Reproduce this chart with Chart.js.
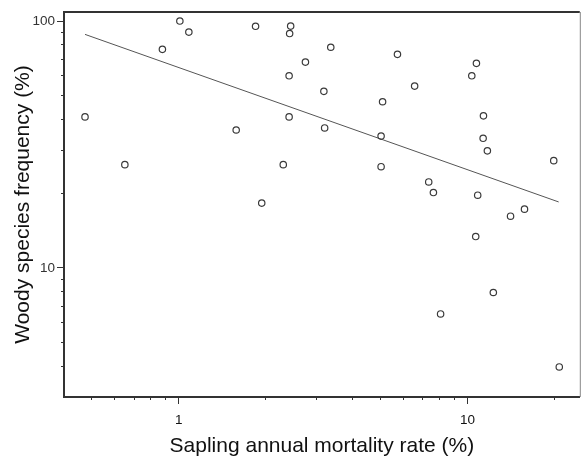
<!DOCTYPE html>
<html lang="en">
  <head>
    <meta charset="UTF-8" />
    <title>Woody species frequency vs sapling mortality</title>
    <script src="https://cdn.jsdelivr.net/npm/chart.js@4.4.1/dist/chart.umd.min.js"></script>
    <style>
      body { margin: 0; background: #fff; }
    </style>
  </head>
  <body>
    <canvas id="myChart" width="585" height="457"></canvas>

    <script>
    // values (log-log axes)
    const mortality = [0.473, 0.650, 0.877, 1.008, 1.083, 1.58, 1.844, 1.937, 2.30, 2.41,
                       2.41, 2.44, 2.42, 2.745, 3.36, 3.18, 3.20, 5.08, 5.02, 5.02,
                       5.72, 6.56, 7.34, 7.62, 10.35, 10.74, 10.68, 10.85, 11.36, 11.33,
                       11.72, 12.29, 8.07, 14.10, 15.76, 19.9, 20.8];
    const frequency = [40.9, 26.2, 76.8, 100, 90.2, 36.2, 95.2, 18.3, 26.2, 60.0,
                       40.9, 95.4, 89.0, 68.2, 78.3, 51.9, 36.9, 47.1, 34.2, 25.7,
                       73.3, 54.5, 22.3, 20.2, 60.0, 67.4, 13.4, 19.7, 41.3, 33.5,
                       29.8, 7.95, 6.51, 16.2, 17.3, 27.2, 3.97];

    // fitted line end points
    const fitX = [0.473, 20.7];
    const fitY = [88.3, 18.5];

    // axis ticks
    const xMajor = [1, 10];
    const xMinor = [0.5, 0.6, 0.7, 0.8, 0.9, 2, 3, 4, 5, 6, 7, 8, 9, 20];
    const yMajor = [10, 100];
    const yMinor = [4, 5, 6, 7, 8, 9, 20, 30, 40, 50, 60, 70, 80, 90];

    const xTitle = 'Sapling annual mortality rate (%)';
    const yTitle = 'Woody species frequency (%)';

    const ink = '#333';

    const frame = {
      id: 'frame',
      afterDraw(chart) {
        const ctx = chart.ctx;
        const a = chart.chartArea;
        ctx.save();
        ctx.strokeStyle = ink;
        ctx.lineWidth = 2;
        ctx.beginPath();
        ctx.moveTo(a.left - 1, a.top);
        ctx.lineTo(a.right, a.top);
        ctx.stroke();
        ctx.strokeStyle = '#888';
        ctx.lineWidth = 1;
        ctx.beginPath();
        ctx.moveTo(a.right + 0.5, a.top);
        ctx.lineTo(a.right + 0.5, a.bottom);
        ctx.stroke();
        ctx.restore();
      }
    };

    function setTicks(values) {
      return scale => { scale.ticks = values.map(v => ({ value: v })); };
    }

    chartIt();

    function chartIt() {
      const points = mortality.map((x, i) => ({ x: x, y: frequency[i] }));
      const fit = fitX.map((x, i) => ({ x: x, y: fitY[i] }));

      const ctx = document.getElementById('myChart').getContext('2d');
      new Chart(ctx, {
        type: 'scatter',
        data: {
          datasets: [{
            data: points,
            pointRadius: 3.2,
            pointBorderWidth: 1.2,
            pointBorderColor: '#3a3a3a',
            pointBackgroundColor: 'rgba(0,0,0,0)',
            showLine: false
          }, {
            type: 'line',
            data: fit,
            borderColor: '#555',
            borderWidth: 1,
            pointRadius: 0,
            fill: false
          }]
        },
        options: {
          responsive: false,
          animation: false,
          devicePixelRatio: 1,
          layout: { padding: { top: 12, right: 2, left: 0, bottom: 0 } },
          plugins: { legend: { display: false }, tooltip: { enabled: false } },
          scales: {
            x: {
              type: 'logarithmic',
              position: 'bottom',
              weight: 1,
              min: 0.4,
              max: 24.5,
              afterBuildTicks: setTicks(xMajor),
              afterFit: s => { s.height = 60; },
              border: { display: true, color: ink, width: 2 },
              grid: { drawOnChartArea: false, tickLength: 7, tickColor: ink },
              ticks: {
                autoSkip: false, maxRotation: 0, padding: 8, color: '#111',
                font: { family: 'Liberation Sans', size: 13.5 },
                callback: v => String(v)
              },
              title: {
                display: true, text: xTitle, color: '#111',
                padding: { top: 0, bottom: -2 },
                font: { family: 'Liberation Sans', size: 21 }
              }
            },
            x2: {
              type: 'logarithmic',
              axis: 'x',
              position: 'bottom',
              weight: 0,
              min: 0.4,
              max: 24.5,
              afterBuildTicks: setTicks(xMinor),
              afterFit: s => { s.height = 0; },
              border: { display: false },
              grid: { drawOnChartArea: false, tickLength: 3, tickColor: ink },
              ticks: { display: false }
            },
            y: {
              type: 'logarithmic',
              position: 'left',
              weight: 1,
              min: 3,
              max: 108.8,
              afterBuildTicks: setTicks(yMajor),
              afterFit: s => { s.width = 64; },
              border: { display: true, color: ink, width: 2 },
              grid: { drawOnChartArea: false, tickLength: 7, tickColor: ink },
              ticks: {
                autoSkip: false, padding: 2, color: '#333',
                font: { family: 'Liberation Sans', size: 13.5 },
                callback: v => String(v)
              },
              title: {
                display: true, text: yTitle, color: '#111',
                padding: { top: 11, bottom: 0 },
                font: { family: 'Liberation Sans', size: 21 }
              }
            },
            y2: {
              type: 'logarithmic',
              axis: 'y',
              position: 'left',
              weight: 0,
              min: 3,
              max: 108.8,
              afterBuildTicks: setTicks(yMinor),
              afterFit: s => { s.width = 0; },
              border: { display: false },
              grid: { drawOnChartArea: false, tickLength: 3, tickColor: ink },
              ticks: { display: false }
            }
          }
        },
        plugins: [frame]
      });
    }
    </script>
  </body>
</html>
